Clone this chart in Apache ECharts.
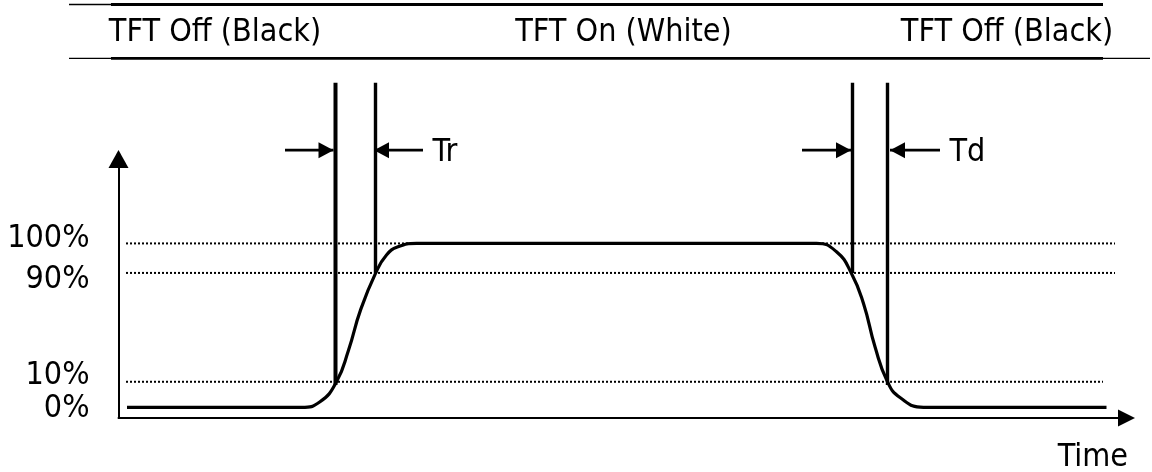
<!DOCTYPE html>
<html><head><meta charset="utf-8">
<script src="https://cdn.jsdelivr.net/npm/echarts@6/dist/echarts.min.js"></script>
<style>html,body{margin:0;padding:0;background:#fff}#c{width:1152px;height:472px}</style>
</head><body><div id="c"></div>
<script>
// ---- data (schematic units: time 0..100.8, level where 0% baseline = 0 and 100% = 100) ----
const TIME_MAX = 100.8;
const LEVEL_MIN = -6.5, LEVEL_MAX = 151.5;

const levelLabels = ['0%', '10%', '90%', '100%'];
const levelValues = [0, 15.6, 82, 100];

const responseTime  = [0.85, 18.3, 20.15, 21.8, 23.0, 24.2, 25.7, 26.8, 27.95, 29.8, 69.8, 71.8, 73.3, 74.5, 75.65, 76.9, 78.15, 80.5, 98.8];
const responseLevel = [0,    0,    3.4,   15.6, 34.9, 59.3, 81.7, 92.9, 97.9,  100,  100,  94.9, 81.7, 63.4, 37,    15.6, 6.0,   0,    0];

const refLevels = [15.6, 82, 100];
const refStart = 0.75;
const refEnds = [98.45, 99.65, 99.65];

const markerTimes  = [21.7, 25.7, 73.4, 76.9];
const markerBottom = [13.6, 82, 82, 13.6];
const markerTop = 198;

const arrowLevel = 156.9;
const arrowTails = [16.65, 30.45, 68.35, 82.15];
const arrowTips  = [21.5, 25.55, 73.25, 77.15];
const arrowText  = ['', 'Tr', '', 'Td'];

const phaseNames   = ['TFT Off (Black)', 'TFT On (White)', 'TFT Off (Black)'];
const phaseCenters = [9.65, 50.5, 88.85];
const headerThin = [-4.95, -0.75];
const headerThick = [-0.75, 98.45];
const headerTail = [98.45, 103.15];

// ---- chart ----
const FONT = "'DejaVu Sans Condensed', 'Liberation Sans', sans-serif";
const BLACK = '#000';
const FS = 32;

function seg(data, width, extra) {
  return Object.assign({
    type: 'line', data: data, symbol: 'none', showSymbol: false, clip: false,
    silent: true, animation: false, z: 3,
    lineStyle: { color: BLACK, width: width }
  }, extra || {});
}

const series = [];

// dotted reference lines
refLevels.forEach((v, i) => {
  series.push(seg([[refStart, v], [refEnds[i], v]], 2, {
    lineStyle: { color: BLACK, width: 2, type: [2, 2] }, z: 1
  }));
});

// response curve
series.push(seg(responseTime.map((t, i) => [t, responseLevel[i]]), 3.2, {
  smooth: 0.5, z: 4
}));

// vertical marker lines
markerTimes.forEach((t, i) => {
  series.push(seg([[t, markerBottom[i]], [t, markerTop]], i === 0 ? 4 : 3.4));
});

// arrows
arrowTails.forEach((tail, i) => {
  const tip = arrowTips[i];
  const right = tip > tail;
  const tipItem = {
    value: [tip, arrowLevel], symbol: 'triangle', symbolSize: [16, 15],
    symbolRotate: right ? -90 : 90, symbolOffset: [right ? -7.5 : 7.5, 0],
    itemStyle: { color: BLACK }
  };
  const tailItem = { value: [tail, arrowLevel], symbol: 'circle', symbolSize: 1, itemStyle: { color: 'rgba(0,0,0,0)' } };
  if (arrowText[i]) {
    tailItem.label = {
      show: true, position: 'right', distance: 9, offset: [0, 3],
      formatter: arrowText[i], color: BLACK, fontSize: FS, fontFamily: FONT
    };
  }
  series.push(seg(right ? [tailItem, tipItem] : [tipItem, tailItem], 2.6, { showSymbol: true, symbol: 'none' }));
});

// level labels on the vertical axis (small vertical nudges keep them clear of each other)
const levelNudge = [1, -6, 7, -5];
const levelLabelStyle = { show: true, position: 'left', distance: 29, color: BLACK, opacity: 1,
                          textBorderWidth: 0, fontSize: FS, fontFamily: FONT };
series.push({
  type: 'scatter', silent: true, animation: false, clip: false,
  symbolSize: 0.01, itemStyle: { color: BLACK, opacity: 1 },
  data: levelValues.map((v, i) => ({
    value: [0, v], name: levelLabels[i],
    label: Object.assign({ offset: [0, levelNudge[i]], formatter: levelLabels[i] }, levelLabelStyle)
  })),
  label: levelLabelStyle
});

// header rules
[1, 0].forEach(y => {
  series.push(seg([[headerThin[0], y], [headerThin[1], y]], 1.3, { xAxisIndex: 1, yAxisIndex: 1 }));
  series.push(seg([[headerThick[0], y], [headerThick[1], y]], 2.8, { xAxisIndex: 1, yAxisIndex: 1 }));
});
series.push(seg([[headerTail[0], 0], [headerTail[1], 0]], 1.3, { xAxisIndex: 1, yAxisIndex: 1 }));

// header phase labels
series.push({
  type: 'scatter', xAxisIndex: 1, yAxisIndex: 1, silent: true, animation: false,
  symbolSize: 0.01, itemStyle: { color: BLACK, opacity: 1 },
  data: phaseNames.map((n, i) => ({ value: [phaseCenters[i], 0.5], name: n })),
  label: { show: true, position: 'inside', formatter: p => p.name, color: BLACK, opacity: 1,
           textBorderWidth: 0, fontSize: FS, fontFamily: FONT, offset: [0, 1] }
});

const option = {
  animation: false,
  backgroundColor: '#fff',
  grid: [
    { left: 118.5, right: 25.5, top: 159, bottom: 54, containLabel: false, outerBoundsMode: 'none' },
    { left: 69, right: 2, top: 4.5, height: 53.8, containLabel: false, outerBoundsMode: 'none' }
  ],
  xAxis: [
    {
      gridIndex: 0, type: 'value', min: 0, max: TIME_MAX,
      axisLine: { show: true, onZero: false, lineStyle: { color: BLACK, width: 2 }, symbol: ['none', 'triangle'], symbolSize: [17, 17] },
      axisTick: { show: false }, axisLabel: { show: false }, splitLine: { show: false },
      name: 'Time', nameLocation: 'end', nameGap: 1.5,
      nameTextStyle: { color: BLACK, fontSize: FS, fontFamily: FONT, align: 'right', verticalAlign: 'top', padding: [24, 0, 0, 0] }
    },
    { gridIndex: 1, type: 'value', min: headerThin[0], max: headerTail[1], show: false }
  ],
  yAxis: [
    {
      gridIndex: 0, type: 'value', min: LEVEL_MIN, max: LEVEL_MAX,
      axisLine: { show: true, onZero: false, lineStyle: { color: BLACK, width: 2 }, symbol: ['none', 'triangle'], symbolSize: [20, 18] },
      axisTick: { show: false }, splitLine: { show: false }, axisLabel: { show: false }
    },
    { gridIndex: 1, type: 'value', min: 0, max: 1, show: false }
  ],
  series: series
};

const chart = echarts.init(document.getElementById('c'));
chart.setOption(option);
</script>
</body></html>
